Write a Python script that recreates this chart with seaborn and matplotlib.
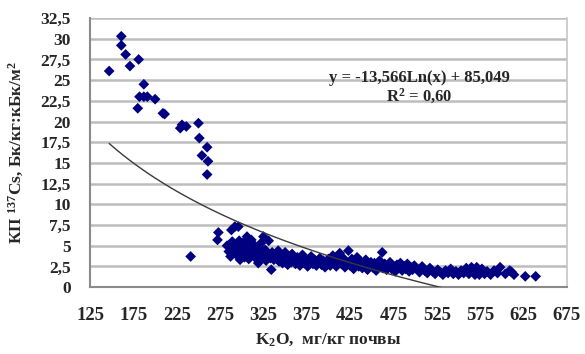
import numpy as np
import pandas as pd
import matplotlib
matplotlib.use('Agg')
import matplotlib.pyplot as plt
import seaborn as sns

# --- данные ---
k2o = [147, 161, 161, 166, 171, 181, 187, 182, 187, 191, 180, 200, 209, 211,
       229, 231, 236, 250, 251, 260, 254, 261, 260, 241, 273, 272,
       # 280-340
       283, 285, 287, 288, 289, 290, 291, 292, 293, 294, 296, 296, 297, 298,
       300, 301, 302, 303, 304, 306, 306, 307, 308, 310, 311, 312, 313, 315,
       316, 317, 319, 320, 321, 322, 323, 325, 325, 327, 328, 330, 331, 333,
       334, 335, 337, 338,
       # 340-420
       340, 342, 343, 345, 347, 348, 350, 352, 353, 355, 357, 358, 360, 362,
       364, 365, 367, 369, 370, 372, 374, 376, 378, 380, 382, 384, 386, 388,
       390, 392, 394, 396, 398, 400, 402, 405, 407, 409, 411, 413, 415, 417, 419,
       # 420-500
       421, 423, 425, 427, 429, 431, 433, 435, 437, 439, 441, 443, 445, 447,
       449, 451, 453, 455, 457, 459, 462, 463, 465, 467, 469, 471, 473, 475,
       477, 479, 481, 483, 485, 487, 489, 491, 493, 495, 497, 499,
       # 500-640
       502, 505, 508, 511, 514, 517, 520, 523, 526, 529, 532, 535, 538, 541,
       544, 547, 550, 553, 556, 559, 562, 565, 567, 569, 571, 574, 577, 580,
       583, 587, 591, 595, 598, 604, 609, 611, 614, 627, 639]

kp_cs = [26.1, 30.3, 29.2, 28.1, 26.7, 27.5, 24.5, 23.0, 23.0, 23.0, 21.6, 22.7, 21.0, 20.9,
         19.2, 19.6, 19.4, 19.8, 18.0, 16.9, 15.9, 15.2, 13.6, 3.7, 6.6, 5.7,
         5.0, 4.3, 3.7, 6.9, 5.5, 4.8, 4.1, 7.3, 5.1, 3.9, 7.3, 4.6, 5.6, 3.3,
         4.9, 4.2, 5.4, 3.6, 4.7, 6.1, 4.0, 5.2, 3.4, 4.6, 5.7, 3.9, 4.4, 5.0,
         3.5, 4.2, 2.9, 4.8, 3.8, 5.3, 4.1, 6.1, 3.6, 4.5, 3.2, 4.0, 5.6, 3.5,
         2.1, 4.2, 3.3, 3.9,
         3.6, 4.4, 3.1, 3.8, 2.9, 3.5, 4.2, 3.2, 2.7, 3.7, 3.0, 4.0, 3.4, 2.8,
         3.6, 3.1, 2.6, 3.3, 3.9, 2.9, 3.4, 2.5, 3.1, 3.7, 2.8, 3.3, 2.6, 3.0,
         3.5, 2.7, 3.2, 2.4, 2.9, 3.4, 2.6, 3.8, 3.0, 2.5, 3.3, 4.1, 2.8, 3.5, 2.4,
         3.0, 4.4, 2.6, 3.4, 2.2, 2.9, 3.6, 2.5, 3.1, 2.3, 2.8, 3.3, 2.1, 2.7,
         3.0, 2.4, 2.9, 2.0, 2.6, 3.2, 4.2, 2.3, 2.8, 2.1, 2.6, 3.0, 2.2, 2.5,
         1.9, 2.7, 2.3, 2.9, 2.0, 2.5, 2.2, 2.8, 1.9, 2.4, 2.1, 2.6,
         2.2, 1.8, 2.5, 2.0, 1.7, 2.3, 1.9, 1.6, 2.1, 1.8, 1.5, 2.0, 1.7, 2.2,
         1.6, 1.9, 1.5, 2.0, 1.7, 2.3, 1.6, 2.4, 1.9, 1.5, 2.4, 1.5, 2.2, 1.6,
         1.9, 1.5, 2.0, 1.7, 2.4, 1.6, 2.0, 1.85, 1.5, 1.3, 1.3]

# коэффициенты логарифмического тренда (с рисунка)
trend_a = -13.566
trend_b = 85.049
r2_text = 'R$^2$ = 0,60'
eq_text = 'y = -13,566Ln(x) + 85,049'

x_ticks = [125, 175, 225, 275, 325, 375, 425, 475, 525, 575, 625, 675]
y_ticks = [0, 2.5, 5, 7.5, 10, 12.5, 15, 17.5, 20, 22.5, 25, 27.5, 30, 32.5]

df = pd.DataFrame({'k2o': k2o, 'kp': kp_cs})

sns.set_style('white')
plt.rcParams['font.family'] = ['Liberation Serif', 'DejaVu Serif']
plt.rcParams['font.weight'] = 'bold'
plt.rcParams['mathtext.fontset'] = 'custom'
plt.rcParams['mathtext.rm'] = 'Liberation Serif:bold'
plt.rcParams['mathtext.bf'] = 'Liberation Serif:bold'
plt.rcParams['mathtext.default'] = 'bf'

fig = plt.figure(figsize=(5.85, 3.54), dpi=100)
ax = fig.add_axes([0.154, 0.189, 0.815, 0.760])

# сетка
for yv in y_ticks[1:]:
    ax.axhline(yv, color='#bdbdbd', lw=1.8, zorder=0)

# точки
sns.scatterplot(x='k2o', y='kp', data=df, ax=ax, marker='D', color='#000080',
                s=30, edgecolor='none', zorder=3)

# линия тренда
x_fit = np.linspace(min(k2o), max(k2o), 200)
fit = pd.DataFrame({'x': x_fit, 'y': trend_a * np.log(x_fit) + trend_b})
sns.lineplot(x='x', y='y', data=fit, ax=ax, color='#3a3a3a', lw=1.0, zorder=4)

ax.set_xlim(125, 675)
ax.set_ylim(0, 32.5)
ax.set_xticks(x_ticks)
ax.set_yticks(y_ticks)
ax.set_xticklabels([str(t) for t in x_ticks], fontsize=13.5, fontweight='bold')
ax.set_yticklabels([('%g' % t).replace('.', ',') for t in y_ticks], fontsize=12.5, fontweight='bold')
ax.tick_params(axis='x', length=5, width=1, color='#8a8a8a', direction='out', pad=9)
ax.tick_params(axis='y', length=5, width=1, color='#8a8a8a', direction='out', pad=9)

for side in ['left', 'bottom']:
    ax.spines[side].set_color('#8a8a8a')
    ax.spines[side].set_linewidth(1.5)
ax.spines['right'].set_color('#c6c6c6')
ax.spines['right'].set_linewidth(1.2)
ax.spines['top'].set_visible(False)

ax.set_xlabel('K$_2$O,  мг/кг почвы', fontsize=12.5, fontweight='bold')
ax.set_ylabel('КП $^{137}$Cs, Бк/кг:кБк/м$^2$', fontsize=12.5, fontweight='bold')
ax.xaxis.set_label_coords(0.5, -0.165)
ax.yaxis.set_label_coords(-0.135, 0.5)

ax.text(505, 25.2, eq_text, ha='center', va='center', fontsize=12, fontweight='bold')
ax.text(505, 23.0, r2_text, ha='center', va='center', fontsize=12, fontweight='bold')

plt.savefig('out.png', dpi=100)
